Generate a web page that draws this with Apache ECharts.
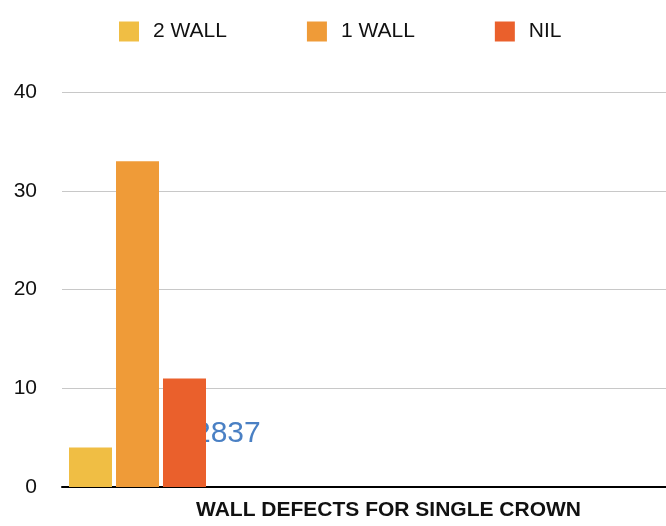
<!DOCTYPE html>
<html>
<head>
<meta charset="utf-8">
<script src="https://cdn.jsdelivr.net/npm/echarts@6/dist/echarts.min.js"></script>
<style>
  html, body { margin: 0; padding: 0; background: #fff; }
  #chart { width: 666px; height: 526px; }
</style>
</head>
<body>
<div id="chart"></div>
<script>
// Category and series values
const categories = ['WALL DEFECTS FOR SINGLE CROWN'];
const seriesNames = ['2 WALL', '1 WALL', 'NIL'];
const twoWall = [4];
const oneWall = [33];
const nil = [11];
const yTicks = [0, 10, 20, 30, 40];
const noteText = '2837';

const colors = ['#F0BE44', '#EF9B38', '#EA602C'];
const font = '"Liberation Sans", Arial, Helvetica, sans-serif';

const chart = echarts.init(document.getElementById('chart'), null, { renderer: 'canvas' });

const values = [twoWall, oneWall, nil];

chart.setOption({
  animation: false,
  color: colors,
  legend: {
    top: 16,
    left: 114,
    itemWidth: 20,
    itemHeight: 20,
    itemGap: 80,
    icon: 'rect',
    textStyle: { fontFamily: font, fontSize: 21, color: '#111', padding: [0, 0, 0, 9] },
    data: seriesNames
  },
  grid: { left: 62, right: 0, top: 92, bottom: 34 },
  xAxis: {
    type: 'category',
    data: categories,
    max: 3,
    axisTick: { show: false },
    axisLabel: { show: false },
    axisLine: { lineStyle: { color: '#000', width: 2 } },
    name: categories[0],
    nameLocation: 'middle',
    nameGap: 13,
    nameTextStyle: {
      fontFamily: font, fontSize: 21, fontWeight: 'bold', color: '#111',
      padding: [0, 0, 0, 49]
    }
  },
  yAxis: {
    type: 'value',
    min: yTicks[0],
    max: yTicks[yTicks.length - 1],
    interval: yTicks[1] - yTicks[0],
    axisLine: { show: false },
    axisTick: { show: false },
    axisLabel: { fontFamily: font, fontSize: 21, color: '#111', margin: 25 },
    splitLine: { lineStyle: { color: '#c8c8c8', width: 1 } }
  },
  graphic: [{
    type: 'text',
    left: 194,
    top: 419,
    z: 0,
    style: { text: noteText, fontFamily: font, fontSize: 30, fill: '#4A80C4' }
  }],
  series: seriesNames.map((name, i) => ({
    name,
    type: 'bar',
    data: values[i],
    barWidth: 43,
    barGap: '9.3%',
    z: 3,
    itemStyle: { color: colors[i] }
  }))
});
</script>
</body>
</html>
